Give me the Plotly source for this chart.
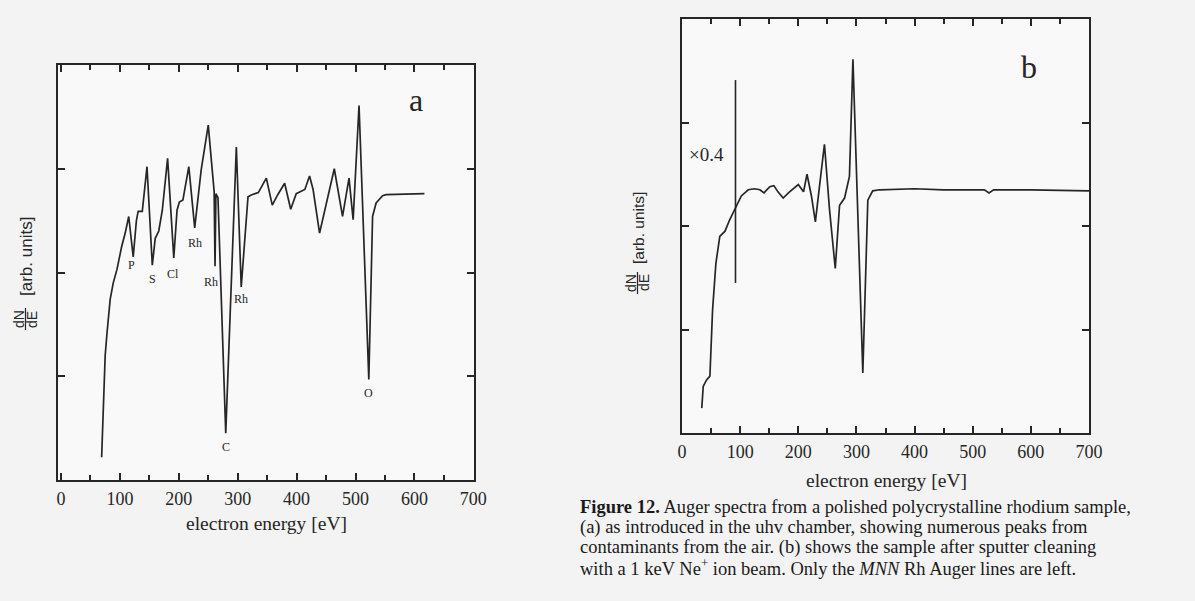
import plotly.graph_objects as go

W, H = 1195, 601

# ---------------- data ----------------
energy_a = [69, 72, 75, 78, 83.5, 88.7, 95, 103, 109, 115, 122.6, 128, 131, 138, 146,
            155, 160, 166, 172, 181, 191.5, 197, 201, 207, 217, 227, 238, 250, 256,
            260, 261.5, 263, 266.5, 279.7, 297.7, 306, 317.5, 324, 335, 348.6, 358.7,
            368, 379.7, 390, 399.4, 414, 422, 428, 439, 450, 464, 478, 489, 496,
            506, 522.6, 529, 535, 546, 552, 617]
signal_a = [0.22, 0.84, 1.20, 1.41, 1.74, 1.90, 2.03, 2.25, 2.38, 2.54, 2.15, 2.50, 2.59,
            2.59, 3.02, 2.07, 2.33, 2.40, 2.60, 3.10, 2.14, 2.60, 2.68, 2.70, 3.02, 2.43,
            2.99, 3.42, 3.00, 2.78, 2.06, 2.76, 2.72, 0.45, 3.21, 1.86, 2.73, 2.75, 2.77,
            2.91, 2.65, 2.75, 2.86, 2.61, 2.76, 2.80, 2.93, 2.80, 2.38, 2.65, 3.00, 2.54,
            2.91, 2.51, 3.61, 0.97, 2.54, 2.67, 2.74, 2.75, 2.76]

peak_labels_a = ["P", "S", "Cl", "Rh", "Rh", "C", "Rh", "O"]
peak_label_energy_a = [120, 155, 190, 227, 255, 280, 306, 522.6]
peak_label_y_a = [2.07, 1.94, 1.99, 2.28, 1.91, 0.32, 1.74, 0.84]

energy_b = [34, 36.5, 42, 48, 52.6, 58.3, 65, 74, 82, 91, 102, 114, 125, 134, 141, 151,
            158, 165, 174, 183, 194, 200, 209, 215, 222.6, 229.4, 237, 245, 253.7, 263.6,
            271, 279.6, 288, 294, 311, 319.6, 328, 340, 400, 450, 520, 528, 536, 600, 700]
signal_b = [0.24, 0.45, 0.51, 0.55, 1.19, 1.64, 1.90, 1.95, 2.06, 2.17, 2.29, 2.35, 2.36,
            2.35, 2.32, 2.38, 2.39, 2.33, 2.27, 2.32, 2.37, 2.40, 2.33, 2.50, 2.29, 2.04,
            2.41, 2.79, 2.16, 1.59, 2.20, 2.27, 2.48, 3.61, 0.58, 2.25, 2.34, 2.35, 2.36,
            2.35, 2.35, 2.32, 2.35, 2.35, 2.34]

scale_marker_energy_b = [92, 92]
scale_marker_y_b = [1.45, 3.41]

x_tick_values = [0, 100, 200, 300, 400, 500, 600, 700]
x_tick_labels = ["0", "100", "200", "300", "400", "500", "600", "700"]
y_tick_values = [1, 2, 3]

caption_lines = [
    "<b>Figure 12.</b> Auger spectra from a polished polycrystalline rhodium sample,",
    "(a) as introduced in the uhv chamber, showing numerous peaks from",
    "contaminants from the air. (b) shows the sample after sputter cleaning",
    "with a 1 keV Ne<sup>+</sup> ion beam. Only the <i>MNN</i> Rh Auger lines are left.",
]

# ---------------- styling ----------------
SERIF = "Liberation Serif, Times New Roman, serif"
SANS = "Liberation Sans, Arial, sans-serif"
INK = "#262626"


def px_x(x):
    return x / W


def px_y(y):
    return 1 - y / H


fig = go.Figure()
fig.add_trace(go.Scatter(x=energy_a, y=signal_a, mode="lines", xaxis="x", yaxis="y",
                         line=dict(color=INK, width=1.7), showlegend=False,
                         hoverinfo="skip"))
fig.add_trace(go.Scatter(x=energy_b, y=signal_b, mode="lines", xaxis="x2", yaxis="y2",
                         line=dict(color=INK, width=1.7), showlegend=False,
                         hoverinfo="skip"))
fig.add_trace(go.Scatter(x=scale_marker_energy_b, y=scale_marker_y_b, mode="lines",
                         xaxis="x2", yaxis="y2", line=dict(color=INK, width=1.6),
                         showlegend=False, hoverinfo="skip"))

xcommon = dict(
    tickmode="array", tickvals=x_tick_values, ticktext=x_tick_labels,
    ticks="inside", ticklen=7, tickwidth=1.6, tickcolor=INK,
    minor=dict(dtick=50, ticks="inside", ticklen=5, tickwidth=1.6, tickcolor=INK,
               tick0=0, showgrid=False),
    showline=True, linecolor=INK, linewidth=2, mirror="allticks",
    showgrid=False, zeroline=False, automargin=False,
    tickfont=dict(family=SERIF, size=18, color=INK),
    ticklabelstandoff=1,
)
ycommon = dict(
    range=[0, 4], tickmode="array", tickvals=y_tick_values, showticklabels=False,
    ticks="inside", ticklen=7, tickwidth=1.6, tickcolor=INK,
    showline=True, linecolor=INK, linewidth=2, mirror="allticks",
    showgrid=False, zeroline=False, automargin=False,
)

fig.update_layout(
    width=W, height=H,
    margin=dict(l=0, r=0, t=0, b=0, pad=0, autoexpand=False),
    paper_bgcolor="#f3f3f3",
    plot_bgcolor="#f9f9f9",
    xaxis=dict(domain=[px_x(58), px_x(474)], range=[-5.1, 701.2], anchor="y", **xcommon),
    yaxis=dict(domain=[px_y(480), px_y(65)], anchor="x", **ycommon),
    xaxis2=dict(domain=[px_x(682), px_x(1089)], range=[0, 700], anchor="y2", **xcommon),
    yaxis2=dict(domain=[px_y(433), px_y(19)], anchor="x2", **ycommon),
)

ann = []
# peak labels in panel a
for t, e, v in zip(peak_labels_a, peak_label_energy_a, peak_label_y_a):
    ann.append(dict(x=e, y=v, xref="x", yref="y", text=t, showarrow=False,
                    xanchor="center", yanchor="middle",
                    font=dict(family=SERIF, size=12, color=INK)))
# panel letters
ann.append(dict(x=602, y=3.66, xref="x", yref="y", text="a", showarrow=False,
                xanchor="center", yanchor="middle",
                font=dict(family=SERIF, size=32, color=INK)))
ann.append(dict(x=597, y=3.54, xref="x2", yref="y2", text="b", showarrow=False,
                xanchor="center", yanchor="middle",
                font=dict(family=SERIF, size=32, color=INK)))
ann.append(dict(x=42, y=2.69, xref="x2", yref="y2", text="×0.4", showarrow=False,
                xanchor="center", yanchor="middle",
                font=dict(family=SERIF, size=19, color=INK)))

# axis titles
for cx, cy in [(266, 523), (886, 480)]:
    ann.append(dict(x=px_x(cx), y=px_y(cy), xref="paper", yref="paper",
                    text="electron energy [eV]", showarrow=False,
                    xanchor="center", yanchor="middle",
                    font=dict(family=SERIF, size=19.5, color=INK)))

shapes = []
for fx, fy, uy, usz in [(25, 319, 256, 17), (637, 283, 228, 15.5)]:
    ann.append(dict(x=px_x(fx - 6), y=px_y(fy), xref="paper", yref="paper",
                    text="dN", textangle=-90, showarrow=False,
                    xanchor="center", yanchor="middle",
                    font=dict(family=SANS, size=14, color=INK)))
    ann.append(dict(x=px_x(fx + 7), y=px_y(fy), xref="paper", yref="paper",
                    text="dE", textangle=-90, showarrow=False,
                    xanchor="center", yanchor="middle",
                    font=dict(family=SANS, size=14, color=INK)))
    shapes.append(dict(type="line", xref="paper", yref="paper",
                       x0=px_x(fx + 0.5), x1=px_x(fx + 0.5),
                       y0=px_y(fy - 11), y1=px_y(fy + 11),
                       line=dict(color=INK, width=1.2)))
    ann.append(dict(x=px_x(fx + 1), y=px_y(uy), xref="paper", yref="paper",
                    text="[arb. units]", textangle=-90, showarrow=False,
                    xanchor="center", yanchor="middle",
                    font=dict(family=SANS, size=usz, color=INK)))

# caption
for i, line in enumerate(caption_lines):
    ann.append(dict(x=px_x(578), y=px_y(507 + 20 * i), xref="paper", yref="paper",
                    text=line, showarrow=False, xanchor="left", yanchor="middle",
                    font=dict(family=SERIF, size=18.5, color="#1a1a1a")))

fig.update_layout(annotations=ann, shapes=shapes)
fig.write_html("out.html")
